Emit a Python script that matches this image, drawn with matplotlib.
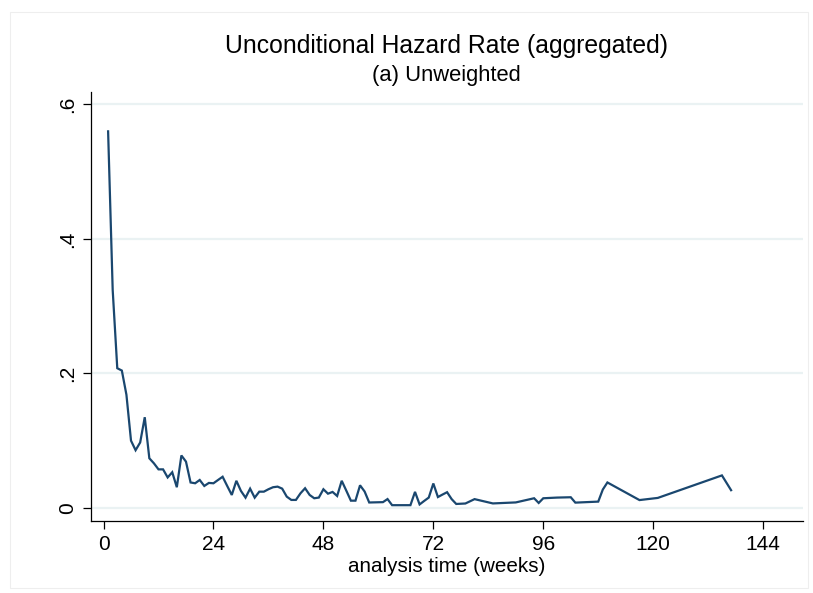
import matplotlib
matplotlib.use("Agg")
import matplotlib.pyplot as plt
from matplotlib.patches import Rectangle

plt.rcParams['font.family'] = ['Liberation Sans', 'DejaVu Sans']

# Data: analysis time (weeks) and unconditional hazard rate
weeks = [1, 2, 3, 4, 5, 6, 7, 8, 9, 10, 11, 12, 13, 14, 15, 16, 17, 18, 19, 20,
         21, 22, 23, 24, 25, 26, 27, 28, 29, 30, 31, 32, 33, 34, 35, 36, 37, 38, 39, 40,
         41, 42, 43, 44, 45, 46, 47, 48, 49, 50, 51, 52, 53, 54, 55, 56, 57, 58,
         61, 62, 63, 67, 68, 69, 70, 71, 72, 73, 74, 75, 76, 77, 79, 81, 85, 90,
         94, 95, 96, 99, 102, 103, 108, 109, 110, 117, 121, 135, 137]
hazard = [0.560, 0.324, 0.2075, 0.204, 0.168, 0.0997, 0.0855, 0.097, 0.1346, 0.0735,
          0.066, 0.057, 0.057, 0.045, 0.0527, 0.0304, 0.0777, 0.0685, 0.0375, 0.0363,
          0.0412, 0.0323, 0.0368, 0.0363, 0.0412, 0.046, 0.0323, 0.0189, 0.040, 0.0249,
          0.0149, 0.0283, 0.0149, 0.0238, 0.0238, 0.0274, 0.0304, 0.0313, 0.0283, 0.0164,
          0.0115, 0.0115, 0.0214, 0.0289, 0.0189, 0.014, 0.015, 0.0274, 0.0208, 0.0234,
          0.0174, 0.040, 0.0253, 0.0104, 0.0104, 0.0333, 0.024, 0.0077,
          0.0082, 0.0128, 0.0037, 0.0037, 0.0235, 0.0048, 0.010, 0.015, 0.036, 0.0158,
          0.0195, 0.023, 0.0127, 0.0055, 0.0062, 0.0127, 0.0063, 0.0078,
          0.014, 0.007, 0.014, 0.015, 0.0155, 0.0075, 0.009, 0.027, 0.0375, 0.0113,
          0.0145, 0.048, 0.026]

xticks = [0, 24, 48, 72, 96, 120, 144]
yticks = [0, 0.2, 0.4, 0.6]
ytick_labels = ['0', '.2', '.4', '.6']

W, H = 813, 593
fig = plt.figure(figsize=(W / 100, H / 100), dpi=100)
fig.patch.set_facecolor('white')

def px(x, y):
    return x / W, 1 - y / H

# outer graph-region border
fig.patches.append(Rectangle((10 / W, 1 - 588 / H), (808 - 10) / W, (588 - 12) / H,
                             transform=fig.transFigure, fill=False,
                             edgecolor='#eeeeee', lw=0.8))

l, r, t, b = 90.7, 803, 91.7, 520.7
ax = fig.add_axes([l / W, 1 - b / H, (r - l) / W, (b - t) / H])
ax.set_facecolor('white')

ax.plot(weeks, hazard, color='#1a476f', lw=1.6, solid_joinstyle='miter', zorder=3)

ax.set_xlim(-2.8, 152.7)
ax.set_ylim(-0.0194, 0.619)

for yv in yticks:
    ax.axhline(yv, color='#eaf2f3', lw=1.6, zorder=1)

ax.set_xticks(xticks)
ax.set_xticklabels([str(v) for v in xticks])
ax.set_yticks(yticks)
ax.set_yticklabels(ytick_labels, rotation=90, va='center')

for s in ['top', 'right']:
    ax.spines[s].set_visible(False)
for s in ['left', 'bottom']:
    ax.spines[s].set_color('#000000')
    ax.spines[s].set_linewidth(0.9)

ax.tick_params(axis='both', direction='out', length=6, width=0.9, color='black',
               labelsize=15, pad=4)

fig.text(*px(446, 46), 'Unconditional Hazard Rate (aggregated)', ha='center', va='center',
         fontsize=17.8)
fig.text(*px(446, 76), '(a) Unweighted', ha='center', va='center', fontsize=15.8)
fig.text(*px(447, 567), 'analysis time (weeks)', ha='center', va='center', fontsize=14.9)

fig.savefig('out.png', dpi=100, facecolor='white')
